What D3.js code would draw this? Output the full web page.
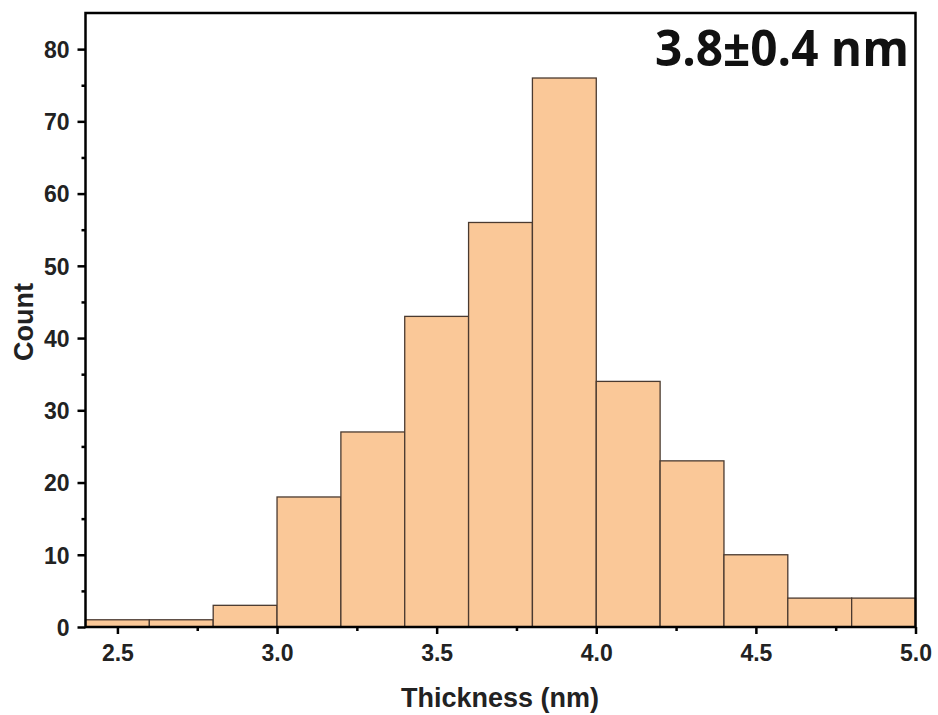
<!DOCTYPE html>
<html><head><meta charset="utf-8">
<script src="https://cdn.jsdelivr.net/npm/d3@7"></script>
<style>body{margin:0;background:#fff}</style>
</head><body>
<svg id="c" width="938" height="715"></svg>
<script>
const binStarts = [2.4,2.6,2.8,3.0,3.2,3.4,3.6,3.8,4.0,4.2,4.4,4.6,4.8];
const binWidth = 0.2;
const counts = [1,1,3,18,27,43,56,76,34,23,10,4,4];
const xTicks = [2.5,3.0,3.5,4.0,4.5,5.0];
const yTicks = [0,10,20,30,40,50,60,70,80];
const annotation = "3.8±0.4 nm";

const svg = d3.select("#c");
const L=85.5, R=915.5, T=13, B=627;
const x = d3.scaleLinear().domain([2.4,5.0]).range([L,R]);
const y = d3.scaleLinear().domain([0,85]).range([B,T]);

svg.append("g").selectAll("rect").data(binStarts).join("rect")
  .attr("x",(d)=>x(d)).attr("width",(d)=>x(d+binWidth)-x(d))
  .attr("y",(d,i)=>y(counts[i])).attr("height",(d,i)=>B-y(counts[i]))
  .attr("fill","#fac898").attr("stroke","#4a3a30").attr("stroke-width",1.3);

const font="Liberation Sans, Arial, sans-serif";
const xa = svg.append("g").attr("transform",`translate(0,${B})`)
  .call(d3.axisBottom(x).tickValues(xTicks).tickFormat(d3.format(".1f")).tickSize(7).tickSizeOuter(0));
const xm = svg.append("g").attr("transform",`translate(0,${B})`)
  .call(d3.axisBottom(x).tickValues(d3.range(2.75,5,0.5)).tickFormat("").tickSize(4).tickSizeOuter(0));
const ya = svg.append("g").attr("transform",`translate(${L},0)`)
  .call(d3.axisLeft(y).tickValues(yTicks).tickSize(8).tickSizeOuter(0));
const ym = svg.append("g").attr("transform",`translate(${L},0)`)
  .call(d3.axisLeft(y).tickValues(d3.range(5,85,10)).tickFormat("").tickSize(4).tickSizeOuter(0));
[xa,xm,ya,ym].forEach(g=>{
  g.select(".domain").remove();
  g.selectAll("line").attr("stroke","#000").attr("stroke-width",2.5);
  g.selectAll("text").attr("font-family",font).attr("font-weight","bold").attr("font-size",23).attr("fill","#222");
});
xa.selectAll("text").attr("dy",0).attr("y",34);
ya.selectAll("text").attr("x",-16).attr("dy","0.36em");

svg.append("rect").attr("x",L).attr("y",T).attr("width",R-L).attr("height",B-T)
  .attr("fill","none").attr("stroke","#000").attr("stroke-width",2.5);

svg.append("text").attr("transform",`translate(33,322) rotate(-90)`).attr("text-anchor","middle")
  .attr("font-family",font).attr("font-weight","bold").attr("font-size",27).attr("fill","#222").text("Count");
svg.append("text").attr("x",500).attr("y",707).attr("text-anchor","middle")
  .attr("font-family",font).attr("font-weight","bold").attr("font-size",27).attr("fill","#222").text("Thickness (nm)");
svg.append("text").attr("x",655).attr("y",66).attr("textLength",254).attr("lengthAdjust","spacingAndGlyphs")
  .attr("font-family","Open Sans, sans-serif").attr("font-weight","bold").attr("font-size",50).attr("fill","#111").text(annotation);
</script>
</body></html>
